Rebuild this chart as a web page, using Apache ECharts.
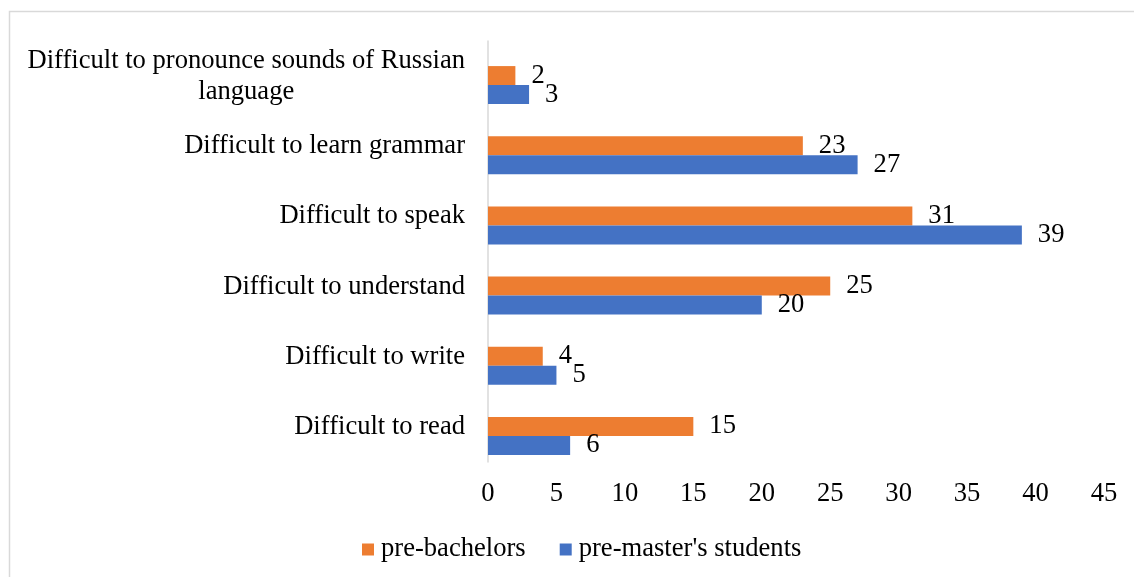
<!DOCTYPE html>
<html>
<head>
<meta charset="utf-8">
<script src="https://cdn.jsdelivr.net/npm/echarts@6/dist/echarts.min.js"></script>
<style>
html,body{margin:0;padding:0;background:#fff;}
#chart{width:1134px;height:577px;}
</style>
</head>
<body>
<div id="chart"></div>
<script>
// Data (bottom to top, as on the chart's category axis)
var categories = [
  "Difficult to read",
  "Difficult to write",
  "Difficult to understand",
  "Difficult to speak",
  "Difficult to learn grammar",
  "Difficult to pronounce sounds of Russian language"
];
var preBachelors = [15, 4, 25, 31, 23, 2];
var preMasters = [6, 5, 20, 39, 27, 3];
var seriesNames = ["pre-bachelors", "pre-master's students"];
var xTicks = { min: 0, max: 45, interval: 5 };

var FONT = "Liberation Serif";
var FS = 26.6;

function wrapLabel(s) {
  var words = s.split(" "), lines = [], cur = "";
  words.forEach(function (w) {
    var t = cur ? cur + " " + w : w;
    if (t.length > 40 && cur) { lines.push(cur); cur = w; } else { cur = t; }
  });
  if (cur) lines.push(cur);
  return lines.map(function (l) { return "{c|" + l + "}"; }).join("\n");
}

var chart = echarts.init(document.getElementById("chart"), null, { renderer: "canvas" });
var option = {
  backgroundColor: "#fff",
  animation: false,
  textStyle: { fontFamily: FONT },
  graphic: [{
    type: "rect", left: 7, top: 9, silent: true, z: -1,
    shape: { width: 1200, height: 700 },
    style: { fill: "none", stroke: "#d9d9d9", lineWidth: 1.5 }
  }],
  legend: {
    data: seriesNames,
    bottom: 9,
    left: 357,
    icon: "rect",
    itemWidth: 12,
    itemHeight: 12,
    itemGap: 34,
    textStyle: { fontFamily: FONT, fontSize: FS, color: "#000", padding: [0, 0, 0, 2] }
  },
  grid: [
    { left: 488, right: 30, top: 41, height: 421 },
    { left: 488, right: 30, top: 50, height: 421 }
  ],
  xAxis: [
    {
      gridIndex: 0, type: "value", min: xTicks.min, max: xTicks.max, interval: xTicks.interval,
      axisLine: { show: false }, axisTick: { show: false }, splitLine: { show: false },
      axisLabel: { fontFamily: FONT, fontSize: FS, color: "#000", margin: 19 }
    },
    {
      gridIndex: 1, type: "value", min: xTicks.min, max: xTicks.max, interval: xTicks.interval,
      show: false, splitLine: { show: false }
    }
  ],
  yAxis: [
    {
      gridIndex: 0, type: "category", data: categories,
      axisLine: { show: true, lineStyle: { color: "#d9d9d9", width: 1.5 } },
      axisTick: { show: false },
      axisLabel: {
        fontFamily: FONT, fontSize: FS, color: "#000", margin: 23, lineHeight: 31,
        formatter: wrapLabel,
        rich: { c: { align: "center", fontFamily: FONT, fontSize: FS, color: "#000", lineHeight: 31 } }
      }
    },
    {
      gridIndex: 1, type: "category", data: categories, show: false
    }
  ],
  series: [
    {
      name: seriesNames[0], type: "bar", xAxisIndex: 1, yAxisIndex: 1,
      data: preBachelors, barWidth: 19, barGap: "0%",
      itemStyle: { color: "#ED7D31" },
      label: { show: true, position: "right", distance: 16, fontFamily: FONT, fontSize: FS, color: "#000", padding: [3, 0, 0, 0] }
    },
    {
      name: seriesNames[1], type: "bar", xAxisIndex: 1, yAxisIndex: 1,
      data: preMasters, barWidth: 19, barGap: "0%",
      itemStyle: { color: "#4472C4" },
      label: { show: true, position: "right", distance: 16, fontFamily: FONT, fontSize: FS, color: "#000", padding: [3, 0, 0, 0] }
    }
  ]
};
chart.setOption(option);
</script>
</body>
</html>
